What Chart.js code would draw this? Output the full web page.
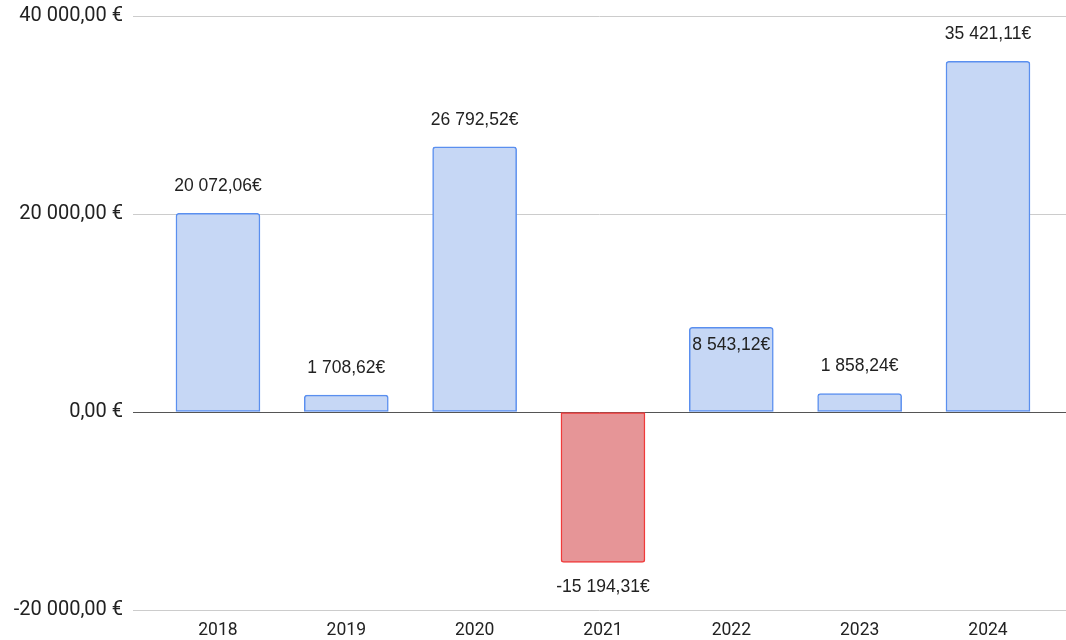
<!DOCTYPE html>
<html>
<head>
<meta charset="utf-8">
<script src="https://cdn.jsdelivr.net/npm/chart.js@4.4.1/dist/chart.umd.min.js"></script>
<style>
  html,body{margin:0;padding:0;background:#fff;}
  #wrap{width:1066px;height:640px;}
</style>
</head>
<body>
<div id="wrap"><canvas id="chart" width="1066" height="640"></canvas></div>
<script>
const years = ['2018','2019','2020','2021','2022','2023','2024'];
const profit = [20072.06, 1708.62, 26792.52, -15194.31, 8543.12, 1858.24, 35421.11];
const yTicks = [-20000, 0, 20000, 40000];

const fmt = (v, dec) => {
  const s = Math.abs(v).toFixed(dec).split('.');
  const int = s[0].replace(/\B(?=(\d{3})+(?!\d))/g, ' ');
  return (v < 0 ? '-' : '') + int + (dec ? ',' + s[1] : '');
};

const BLUE = '#c6d7f5', BLUE_LINE = '#5a8fef';
const RED = '#e69597', RED_LINE = '#f03a3a';

// value labels above (below for negatives) each bar
const valueLabels = {
  id: 'valueLabels',
  afterDatasetsDraw(chart, args, opts){
    const ctx = chart.ctx;
    const meta = chart.getDatasetMeta(0);
    ctx.save();
    ctx.font = '17.5px "Liberation Sans", Arial, sans-serif';
    ctx.fillStyle = '#222';
    ctx.textAlign = 'center';
    ctx.textBaseline = 'middle';
    meta.data.forEach((bar, i) => {
      const v = profit[i];
      let y;
      if (opts.inside.includes(i)) y = bar.y + 18;
      else if (v < 0) y = bar.y + 25;
      else y = bar.y - 27;
      ctx.fillText(fmt(v, 2) + '€', bar.x, y);
    });
    ctx.restore();
  }
};

new Chart(document.getElementById('chart'), {
  type: 'bar',
  data: {
    datasets: [{
      data: profit.map((v, i) => ({x: i, y: v})),
      backgroundColor: profit.map(v => v < 0 ? RED : BLUE),
      borderColor: profit.map(v => v < 0 ? RED_LINE : BLUE_LINE),
      borderWidth: 1.5,
      borderSkipped: false,
      borderRadius: c => {
        const v = profit[c.dataIndex];
        return v < 0 ? {topLeft:0, topRight:0, bottomLeft:3, bottomRight:3}
                     : {topLeft:3, topRight:3, bottomLeft:0, bottomRight:0};
      },
      barThickness: 84
    }]
  },
  options: {
    responsive: false,
    animation: false,
    layout: {padding: {top: 16, right: 0, bottom: 0, left: 0}},
    plugins: {
      legend: {display: false},
      tooltip: {enabled: false},
      valueLabels: {inside: [4]}
    },
    scales: {
      x: {
        type: 'linear',
        offset: false,
        min: -0.662,
        max: 6.608,
        afterBuildTicks: s => { s.ticks = years.map((_, i) => ({value: i})); },
        afterFit: s => { s.height = 30; s.paddingLeft = 0; s.paddingRight = 0; },
        grid: {display: false, drawTicks: false},
        border: {display: false},
        ticks: {
          padding: 10,
          maxRotation: 0,
          autoSkip: false,
          color: '#222',
          font: {family: 'Roboto', size: 17.5},
          callback: v => years[v] ?? ''
        }
      },
      y: {
        min: -20000,
        max: 40000,
        afterBuildTicks: s => { s.ticks = yTicks.map(v => ({value: v})); },
        afterFit: s => { s.width = 133; s.paddingTop = 0; s.paddingBottom = 0; },
        grid: {
          drawTicks: false,
          color: c => c.tick && c.tick.value === 0 ? '#555' : '#cccccc',
          lineWidth: 1
        },
        border: {display: false},
        ticks: {
          padding: 10,
          color: '#222',
          font: {family: 'Roboto', size: 20},
          callback: v => fmt(v, 2) + ' €'
        }
      }
    }
  },
  plugins: [valueLabels]
});
</script>
</body>
</html>
